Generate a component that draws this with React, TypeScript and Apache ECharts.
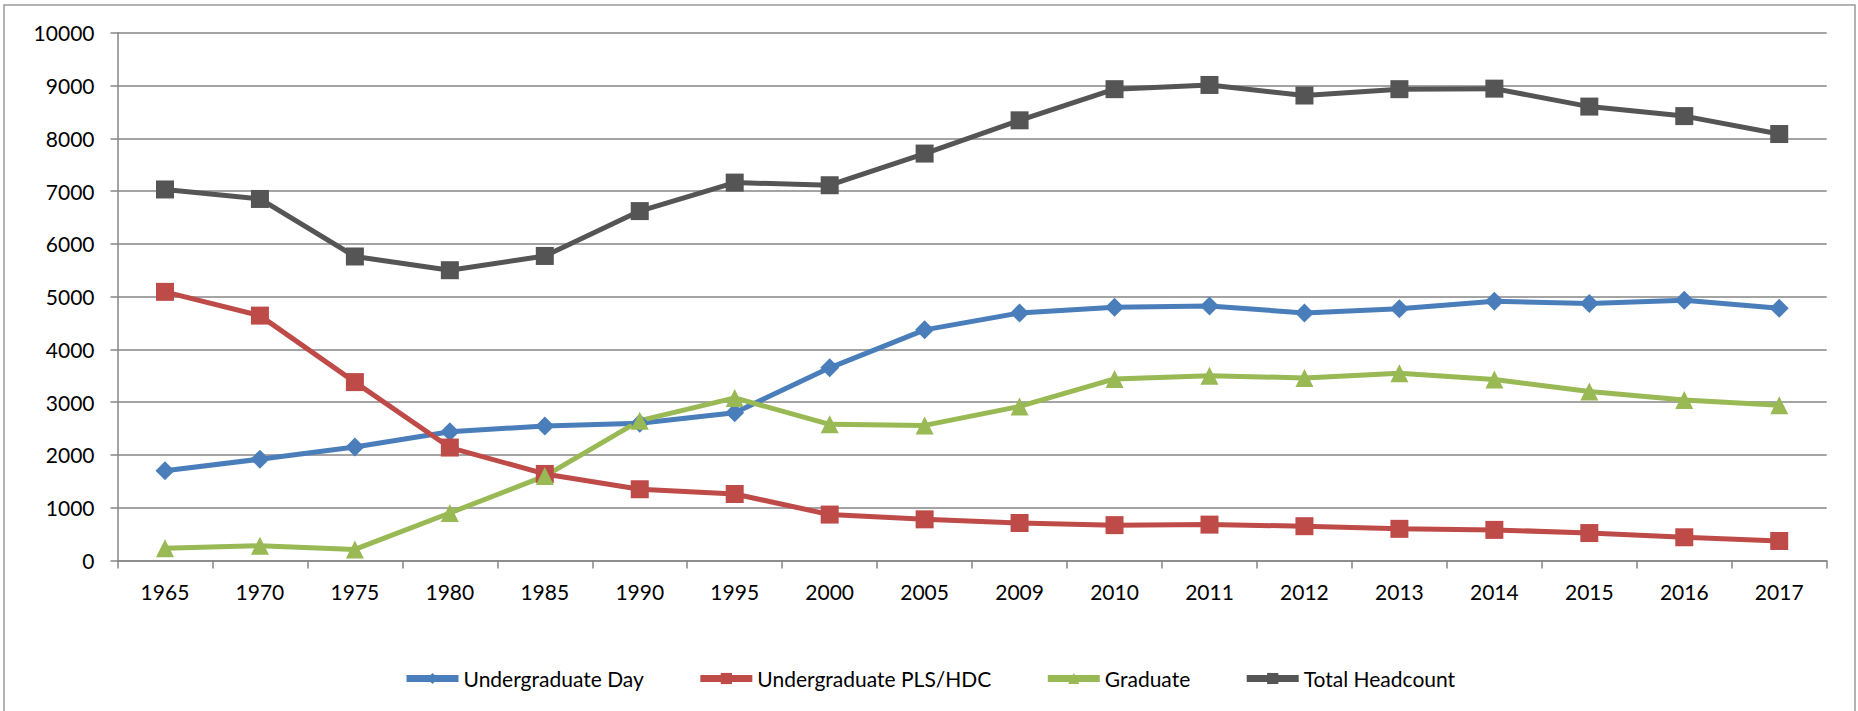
import React, { useEffect, useRef } from "react";
import * as echarts from "echarts";

const years = ["1965", "1970", "1975", "1980", "1985", "1990", "1995", "2000", "2005", "2009", "2010", "2011", "2012", "2013", "2014", "2015", "2016", "2017"];
const undergradDay = [1700, 1920, 2150, 2440, 2550, 2600, 2800, 3650, 4370, 4690, 4800, 4820, 4690, 4770, 4910, 4870, 4930, 4780];
const undergradPLS = [5090, 4640, 3380, 2140, 1640, 1350, 1260, 870, 780, 710, 670, 680, 650, 600, 580, 520, 440, 370];
const graduate = [230, 280, 210, 900, 1600, 2650, 3080, 2580, 2560, 2920, 3440, 3500, 3460, 3550, 3430, 3200, 3040, 2940];
const totalHeadcount = [7030, 6850, 5760, 5500, 5770, 6620, 7160, 7110, 7710, 8340, 8930, 9010, 8810, 8930, 8940, 8600, 8420, 8080];

const FONT = "Lato, 'Liberation Sans', sans-serif";
const AXIS_COLOR = "#868686";

export default function App() {
  const ref = useRef<HTMLDivElement>(null);
  useEffect(() => {
    document.body.style.margin = "0";
    if (!ref.current) return;
    const chart = echarts.init(ref.current, null, { renderer: "svg" });
    const mk = (name: string, data: number[], color: string, symbol: string, size: number) => ({
      name,
      type: "line",
      data,
      symbol,
      symbolSize: size,
      showSymbol: true,
      lineStyle: { color, width: 5 },
      itemStyle: { color },
      emphasis: { disabled: true },
    });
    chart.setOption({
      animation: false,
      backgroundColor: "#ffffff",
      textStyle: { fontFamily: FONT },
      graphic: [
        {
          type: "rect",
          shape: { x: 4, y: 5, width: 1851, height: 730 },
          style: { fill: "none", stroke: "#9a9a9a", lineWidth: 1.5 },
          silent: true,
          z: -1,
        },
      ],
      grid: { left: 117.5, top: 32.7, right: 31.3, bottom: 150.5, containLabel: false },
      legend: {
        left: 398,
        top: 663,
        itemWidth: 52,
        itemHeight: 14,
        itemGap: 53,
        lineStyle: { width: 7 },
        textStyle: { fontFamily: FONT, fontSize: 21, color: "#000" },
        data: ["Undergraduate Day", "Undergraduate PLS/HDC", "Graduate", "Total Headcount"],
      },
      xAxis: {
        type: "category",
        data: years,
        boundaryGap: true,
        axisLine: { show: true, lineStyle: { color: AXIS_COLOR, width: 1.5 } },
        axisTick: { show: true, interval: 0, length: 8, lineStyle: { color: AXIS_COLOR, width: 1.5 } },
        axisLabel: { interval: 0, margin: 20, fontFamily: FONT, fontSize: 21, color: "#000" },
        splitLine: { show: false },
      },
      yAxis: {
        type: "value",
        min: 0,
        max: 10000,
        interval: 1000,
        axisLine: { show: true, lineStyle: { color: AXIS_COLOR, width: 1.5 } },
        axisTick: { show: true, length: 7, lineStyle: { color: AXIS_COLOR, width: 1.5 } },
        axisLabel: { margin: 23, fontFamily: FONT, fontSize: 21, color: "#000", formatter: (v: number) => String(v) },
        splitLine: { show: true, lineStyle: { color: AXIS_COLOR, width: 1.5 } },
      },
      series: [
        mk("Undergraduate Day", undergradDay, "#4A7EBB", "diamond", 19),
        mk("Undergraduate PLS/HDC", undergradPLS, "#BE4B48", "rect", 18),
        mk("Graduate", graduate, "#98B954", "triangle", 18),
        mk("Total Headcount", totalHeadcount, "#555555", "rect", 18),
      ],
    });
    return () => chart.dispose();
  }, []);
  return <div ref={ref} style={{ position: "absolute", left: 0, top: 0, width: 1858, height: 711 }} />;
}
